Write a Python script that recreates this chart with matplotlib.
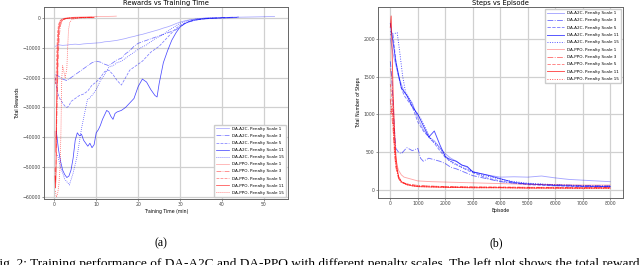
import matplotlib.pyplot as plt

# ---- left plot: rewards vs training time (min) ----
a2c_t1 = [0.3, 1, 2, 3, 4, 5, 6, 7, 8, 9, 10, 11, 12, 13, 14, 15, 16, 17, 18, 19, 20, 21, 22, 23, 24, 25, 26, 27,
          28, 29, 30, 31, 32, 33, 34, 35, 36, 37, 38, 40, 42, 44, 46, 48, 50, 52.5]
a2c_r1 = [-9500, -9000, -9200, -9100, -8900, -8800, -8900, -8700, -8600, -8500, -8400, -8300, -8000, -7900, -7700,
          -7500, -7200, -6900, -6500, -6200, -5800, -5500, -5100, -4700, -4300, -3900, -3400, -3000, -2500, -1900,
          -1400, -1000, -700, -500, -300, -200, -100, 0, 50, 100, 200, 250, 300, 350, 400, 500]

a2c_t3 = [0.3, 1, 2, 3, 4, 5, 6, 7, 8, 9, 10, 11, 12, 13, 14, 15, 16, 17, 18, 19, 20, 21, 22, 23, 24, 25, 26, 27,
          28, 29, 30, 31, 32, 33, 34, 35, 36, 38, 40, 42, 44]
a2c_r3 = [-19000, -19500, -20500, -21000, -20000, -19000, -18000, -17000, -16000, -15000, -14500, -14800, -15500,
          -16000, -15000, -14000, -13500, -12000, -11000, -9500, -8500, -8000, -7500, -7000, -6500, -6000, -5500,
          -5000, -4500, -4000, -3000, -2000, -1400, -1000, -700, -400, -200, 0, 100, 200, 300]

a2c_t5 = [0.3, 0.6, 1, 1.5, 2, 2.5, 3, 3.5, 4, 5, 6, 7, 8, 9, 10, 11, 12, 13, 14, 15, 16, 17, 18, 19, 20, 21, 22,
          23, 24, 25, 26, 27, 28, 29, 30, 31, 32, 33, 34, 36, 38, 40, 42]
a2c_r5 = [-20000, -24000, -26000, -27500, -28500, -29500, -30000, -29500, -28000, -27000, -26000, -25500, -24500,
          -22500, -21500, -20000, -18000, -17500, -19000, -21000, -22500, -20000, -17500, -16500, -15500, -14500,
          -13000, -11500, -10500, -9500, -8000, -6500, -5000, -3500, -2500, -1800, -1300, -900, -600, -300, -100,
          0, 100]

a2c_t11 = [0.5, 1, 1.5, 2, 2.5, 3, 3.5, 4, 4.5, 5, 5.5, 6, 6.5, 7, 7.5, 8, 8.5, 9, 9.5, 10, 10.5, 11, 11.5, 12,
           12.5, 13, 13.5, 14, 14.5, 15, 16, 17, 18, 19, 20, 21, 22, 23, 24, 24.5, 25, 26, 27, 28, 29, 30, 31, 32,
           33, 35, 37, 40, 43.5]
a2c_r11 = [-38000, -44000, -48000, -51000, -52500, -53500, -53000, -51000, -47000, -41000, -38500, -39500, -39000,
           -41000, -42000, -43000, -42000, -43500, -42500, -38500, -37500, -36000, -34000, -32500, -31000, -31500,
           -33000, -34000, -32000, -31500, -31000, -30000, -28500, -27000, -23000, -20500, -21500, -24000, -26000,
           -26500, -22000, -15000, -11000, -7500, -5000, -3000, -2000, -1300, -800, -400, -200, 0, 100]

a2c_t15 = [0.8, 1.5, 2.5, 3.6, 4.5, 5.5, 6.5, 7.9, 9, 10, 11, 12, 13, 14, 15, 16, 17, 18, 19, 20, 22, 24, 26, 28,
           30, 32, 34, 36, 38]
a2c_r15 = [-46000, -50000, -54000, -56000, -52000, -46000, -37000, -27500, -26000, -24000, -21000, -19000, -16500,
           -16000, -15000, -14500, -13500, -12500, -11500, -10500, -9000, -7000, -5500, -3500, -1800, -800, -300,
           0, 100]

ppo_t1 = [0.2, 0.3, 0.4, 0.5, 0.6, 0.7, 0.8, 0.9, 1.0, 1.2, 1.4, 1.7, 2.0, 2.5, 3, 4, 5, 6, 7, 8, 9, 10, 11, 12,
          13, 14, 14.8]
ppo_r1 = [-38000, -45000, -40000, -33000, -24000, -16000, -10000, -6000, -3500, -1800, -1000, -600, -300, -100, 0,
          150, 250, 300, 350, 400, 420, 450, 480, 500, 520, 550, 600]

ppo_t3 = [0.2, 0.3, 0.4, 0.5, 0.6, 0.8, 1.0, 1.2, 1.5, 1.8, 2.2, 2.6, 3, 4, 5, 6, 7, 8, 9]
ppo_r3 = [-50000, -55000, -52000, -44000, -35000, -22000, -12000, -6000, -2500, -1200, -600, -300, -100, 0, 50,
          100, 150, 200, 250]

ppo_t5 = [0.2, 0.3, 0.4, 0.5, 0.6, 0.7, 0.8, 1.0, 1.3, 1.6, 2.0, 2.5, 3.0, 4, 5, 6, 7, 8, 9, 9.5]
ppo_r5 = [-20000, -22000, -21000, -17000, -12000, -8000, -5000, -2500, -1200, -700, -400, -200, -100, 0, -100, 50,
          0, 100, 50, 100]

ppo_t11 = [0.2, 0.3, 0.4, 0.5, 0.7, 0.9, 1.1, 1.4, 1.8, 2.2, 2.8, 3.5, 4.5, 5.5, 6.5, 7.5, 8.5, 9.5]
ppo_r11 = [-53000, -57000, -54000, -40000, -20000, -9000, -4000, -1800, -900, -500, -250, -100, 0, 50, 100, 120,
           150, 200]

ppo_t15 = [0.3, 0.5, 0.8, 1.1, 1.4, 1.6, 1.7, 1.8, 2.0, 2.3, 2.6, 3.0, 3.2, 3.4, 3.7, 4.2, 5, 6, 7, 8, 9]
ppo_r15 = [-58000, -60000, -59000, -56000, -50000, -38000, -28000, -20000, -16000, -18000, -20000, -17000, -10000,
           -4000, -1500, -600, -200, 0, 100, 150, 200]

# ---- right plot: steps vs episode ----
a2c_e1 = [0, 100, 200, 300, 400, 500, 600, 700, 800, 900, 1000, 1200, 1400, 1600, 1800, 2000, 2200, 2400, 2600,
          2800, 3000, 3500, 4000, 4500, 5000, 5500, 6000, 6500, 7000, 7500, 8000]
a2c_s1 = [2000, 1800, 1650, 1500, 1400, 1300, 1250, 1200, 1150, 1050, 950, 800, 700, 650, 560, 480, 420, 380, 330,
          300, 240, 200, 170, 175, 170, 185, 160, 140, 130, 120, 110]

a2c_e3 = [0, 50, 100, 150, 200, 300, 400, 500, 600, 800, 1000, 1100, 1200, 1400, 1600, 1800, 2000, 2200, 2400,
          2600, 2800, 3000, 3500, 4000, 4500, 5000, 6000, 7000, 8000]
a2c_s3 = [1700, 1500, 1150, 800, 550, 500, 480, 520, 560, 520, 550, 420, 380, 420, 400, 380, 350, 300, 280, 250,
          220, 190, 150, 110, 90, 80, 70, 60, 55]

a2c_e5 = [0, 100, 200, 300, 400, 500, 600, 700, 800, 900, 1000, 1200, 1400, 1600, 1800, 2000, 2200, 2400, 2600,
          2800, 3000, 3500, 4000, 4500, 5000, 6000, 7000, 8000]
a2c_s5 = [2100, 2050, 1700, 1500, 1350, 1250, 1200, 1150, 1100, 1000, 900, 780, 700, 620, 520, 430, 380, 340, 300,
          260, 230, 160, 120, 90, 70, 55, 45, 40]

a2c_e11 = [0, 200, 400, 500, 600, 800, 1000, 1200, 1400, 1600, 1800, 2000, 2200, 2400, 2600, 2800, 3000, 3500,
           4000, 4500, 5000, 6000, 7000, 8000]
a2c_s11 = [2200, 1700, 1350, 1300, 1250, 1100, 1000, 850, 700, 780, 600, 440, 400, 380, 330, 310, 240, 200, 150,
           100, 80, 60, 50, 45]

a2c_e15 = [0, 250, 350, 450, 550, 700, 900, 1100, 1300, 1500, 1700, 1900, 2100, 2300, 2600, 2900, 3300, 3800,
           4300, 5000, 6000, 7000, 8000]
a2c_s15 = [2050, 2080, 1800, 1500, 1300, 1200, 1050, 950, 800, 660, 600, 500, 400, 350, 300, 260, 200, 160, 120,
           90, 70, 55, 50]

ppo_e1 = [0, 50, 100, 150, 200, 250, 300, 400, 500, 700, 1000, 1500, 2000, 3000, 4000, 5000, 6000, 7000, 8000]
ppo_s1 = [1600, 1500, 1100, 700, 450, 320, 260, 200, 170, 150, 120, 110, 105, 95, 85, 75, 70, 65, 65]

ppo_e3 = [0, 50, 100, 150, 200, 300, 400, 600, 800, 1000, 1500, 2000, 3000, 4000, 5000, 6000, 7000, 8000]
ppo_s3 = [1200, 1000, 800, 500, 300, 150, 100, 80, 70, 60, 50, 45, 40, 35, 35, 30, 30, 30]

ppo_e5 = [0, 50, 100, 150, 200, 300, 400, 600, 800, 1000, 1500, 2000, 3000, 4000, 5000, 6000, 7000, 8000]
ppo_s5 = [1400, 1250, 900, 550, 330, 170, 110, 80, 65, 55, 50, 45, 40, 40, 35, 35, 30, 35]

ppo_e11 = [0, 30, 60, 100, 150, 200, 250, 300, 400, 600, 800, 1000, 1500, 2000, 3000, 4000, 5000, 6000, 7000, 8000]
ppo_s11 = [2150, 2300, 1900, 1300, 800, 450, 280, 180, 110, 70, 55, 45, 40, 35, 30, 30, 25, 25, 25, 25]

ppo_e15 = [0, 50, 100, 150, 200, 300, 400, 600, 800, 1000, 1500, 2000, 3000, 4000, 5000, 6000, 7000, 8000]
ppo_s15 = [1000, 1100, 950, 600, 350, 160, 100, 70, 55, 45, 40, 35, 30, 30, 25, 25, 20, 20]

scales = [1, 3, 5, 11, 15]
styles = ['-', '-.', '--', '-', ':']
alphas = [0.35, 0.55, 0.5, 0.7, 0.75]

a2c_left = [(a2c_t1, a2c_r1), (a2c_t3, a2c_r3), (a2c_t5, a2c_r5), (a2c_t11, a2c_r11), (a2c_t15, a2c_r15)]
ppo_left = [(ppo_t1, ppo_r1), (ppo_t3, ppo_r3), (ppo_t5, ppo_r5), (ppo_t11, ppo_r11), (ppo_t15, ppo_r15)]
a2c_right = [(a2c_e1, a2c_s1), (a2c_e3, a2c_s3), (a2c_e5, a2c_s5), (a2c_e11, a2c_s11), (a2c_e15, a2c_s15)]
ppo_right = [(ppo_e1, ppo_s1), (ppo_e3, ppo_s3), (ppo_e5, ppo_s5), (ppo_e11, ppo_s11), (ppo_e15, ppo_s15)]

fs = 3.3

fig = plt.figure(figsize=(6.4, 2.65), dpi=100)
ax1 = fig.add_axes([0.069, 0.249, 0.381, 0.725])
ax2 = fig.add_axes([0.591, 0.253, 0.383, 0.721])


def style_axes(ax, title, xlabel, ylabel):
    ax.set_title(title, fontsize=4.9, pad=1.5)
    ax.set_xlabel(xlabel, fontsize=fs, labelpad=1)
    ax.set_ylabel(ylabel, fontsize=fs, labelpad=1.5)
    ax.tick_params(labelsize=fs, length=1.5, width=0.4, pad=1, colors='#444444')
    ax.grid(True, color='#d0d0d0', linewidth=0.9)
    ax.set_axisbelow(True)
    for s in ax.spines.values():
        s.set_color('#666666')
        s.set_linewidth(0.7)


for i in range(5):
    ax1.plot(a2c_left[i][0], a2c_left[i][1], color='blue', linestyle=styles[i], linewidth=0.55,
             alpha=alphas[i], label='DA-A2C, Penalty Scale %d' % scales[i])
for i in range(5):
    ax1.plot(ppo_left[i][0], ppo_left[i][1], color='red', linestyle=styles[i], linewidth=0.55,
             alpha=alphas[i], label='DA-PPO, Penalty Scale %d' % scales[i])
ax1.set_xlim(-2.4, 55.7)
ax1.set_ylim(-60700, 3700)
ax1.set_xticks([0, 10, 20, 30, 40, 50])
ax1.set_yticks([0, -10000, -20000, -30000, -40000, -50000, -60000])
style_axes(ax1, 'Rewards vs Training Time', 'Training Time (min)', 'Total Rewards')
ax1.legend(loc='lower right', fontsize=3, frameon=True, handlelength=3, labelspacing=0.75,
           borderpad=0.5, edgecolor='#cccccc', fancybox=False, framealpha=1)

for i in range(5):
    ax2.plot(a2c_right[i][0], a2c_right[i][1], color='blue', linestyle=styles[i], linewidth=0.65,
             alpha=alphas[i], label='DA-A2C, Penalty Scale %d' % scales[i])
for i in range(5):
    ax2.plot(ppo_right[i][0], ppo_right[i][1], color='red', linestyle=styles[i], linewidth=0.65,
             alpha=alphas[i], label='DA-PPO, Penalty Scale %d' % scales[i])
ax2.set_xlim(-440, 8480)
ax2.set_ylim(-105, 2420)
ax2.set_xticks([0, 1000, 2000, 3000, 4000, 5000, 6000, 7000, 8000])
ax2.set_yticks([0, 500, 1000, 1500, 2000])
style_axes(ax2, 'Steps vs Episode', 'Episode', 'Total Number of Steps')
ax2.legend(loc='upper right', fontsize=3, frameon=True, handlelength=4, labelspacing=0.8,
           borderpad=0.5, edgecolor='#cccccc', fancybox=False, framealpha=1)

fig.text(161 / 640, 1 - 243 / 265, '(a)', fontsize=8.5, family='Liberation Serif', ha='center', va='center')
fig.text(496 / 640, 1 - 243 / 265, '(b)', fontsize=8.5, family='Liberation Serif', ha='center', va='center')
fig.text(-0.012, 1 - 257.5 / 265, 'Fig. 2: Training performance of DA-A2C and DA-PPO with different penalty scales. '
         'The left plot shows the total rewards', fontsize=9.6, family='Liberation Serif', ha='left', va='top')

fig.savefig('out.png', dpi=100)
